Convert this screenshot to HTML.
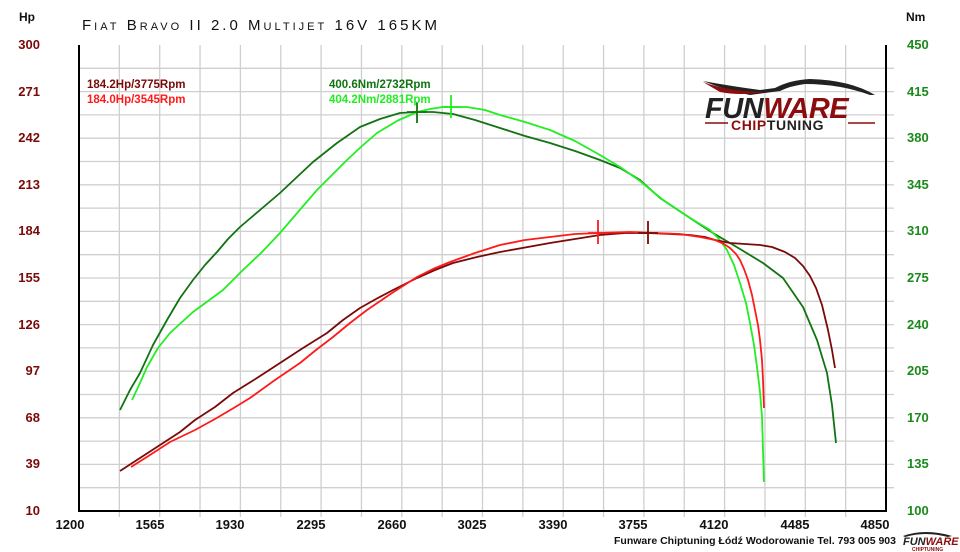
<!DOCTYPE html>
<html><head><meta charset="utf-8"><style>
html,body{margin:0;padding:0;background:#fff;}
svg{display:block;font-family:"Liberation Sans",sans-serif;}
</style></head><body>
<svg width="960" height="552" viewBox="0 0 960 552">
<rect width="960" height="552" fill="#fff"/>
<g stroke="#cfcfcf" stroke-width="1.3">
<line x1="119.35" y1="45" x2="119.35" y2="517"/><line x1="159.7" y1="45" x2="159.7" y2="517"/><line x1="200.05" y1="45" x2="200.05" y2="517"/><line x1="240.4" y1="45" x2="240.4" y2="517"/><line x1="280.75" y1="45" x2="280.75" y2="517"/><line x1="321.1" y1="45" x2="321.1" y2="517"/><line x1="361.45" y1="45" x2="361.45" y2="517"/><line x1="401.8" y1="45" x2="401.8" y2="517"/><line x1="442.15" y1="45" x2="442.15" y2="517"/><line x1="482.5" y1="45" x2="482.5" y2="517"/><line x1="522.85" y1="45" x2="522.85" y2="517"/><line x1="563.2" y1="45" x2="563.2" y2="517"/><line x1="603.55" y1="45" x2="603.55" y2="517"/><line x1="643.9" y1="45" x2="643.9" y2="517"/><line x1="684.25" y1="45" x2="684.25" y2="517"/><line x1="724.6" y1="45" x2="724.6" y2="517"/><line x1="764.95" y1="45" x2="764.95" y2="517"/><line x1="805.3" y1="45" x2="805.3" y2="517"/><line x1="845.65" y1="45" x2="845.65" y2="517"/>
<line x1="79" y1="68.3" x2="894" y2="68.3"/><line x1="79" y1="91.6" x2="894" y2="91.6"/><line x1="79" y1="114.9" x2="894" y2="114.9"/><line x1="79" y1="138.2" x2="894" y2="138.2"/><line x1="79" y1="161.5" x2="894" y2="161.5"/><line x1="79" y1="184.8" x2="894" y2="184.8"/><line x1="79" y1="208.1" x2="894" y2="208.1"/><line x1="79" y1="231.4" x2="894" y2="231.4"/><line x1="79" y1="254.7" x2="894" y2="254.7"/><line x1="79" y1="278" x2="894" y2="278"/><line x1="79" y1="301.3" x2="894" y2="301.3"/><line x1="79" y1="324.6" x2="894" y2="324.6"/><line x1="79" y1="347.9" x2="894" y2="347.9"/><line x1="79" y1="371.2" x2="894" y2="371.2"/><line x1="79" y1="394.5" x2="894" y2="394.5"/><line x1="79" y1="417.8" x2="894" y2="417.8"/><line x1="79" y1="441.1" x2="894" y2="441.1"/><line x1="79" y1="464.4" x2="894" y2="464.4"/><line x1="79" y1="487.7" x2="894" y2="487.7"/>
</g>
<g stroke="#000" stroke-width="2" fill="none">
<line x1="79" y1="45" x2="79" y2="512"/>
<line x1="886" y1="45" x2="886" y2="512"/>
<line x1="78" y1="511" x2="887" y2="511"/>
</g>
<g fill="none" stroke-width="1.8" stroke-linejoin="round">
<polyline stroke="#127312" points="120,410 130,390 140,373 153,345 167,320 180,298 193,280 205,265 217,252 228,239 240,227 260,210 280,193 297,177 313,162 337,143 360,127 380,119 400,113 417,112 433,112 453,114 475,120 500,128 525,136 550,143 575,151 600,160 620,168 640,180 660,198 690,218 713,233 740,249 763,263 783,278 803,307 817,340 827,373 832,405 836,443"/>
<polyline stroke="#22ee22" points="132,400 140,383 147,367 158,348 170,333 182,322 193,312 208,301 223,290 233,280 243,270 262,252 280,233 298,212 317,190 332,175 347,160 362,146 377,133 397,121 417,112 430,109 443,107 455,107 467,107 485,110 500,115 525,122 550,130 575,141 600,155 620,167 640,181 663,200 690,218 710,230 719,239 727,250 734,265 740,283 746,303 750,323 754,345 757,367 760,392 762,417 763,450 764,482"/>
<polyline stroke="#7a0a0a" points="120,471 140,458 160,445 180,432 195,420 215,407 233,393 257,378 280,363 303,348 327,333 343,320 360,308 376,299 393,290 405,284 417,278 435,270 453,263 477,257 500,252 550,243 600,235 625,233 648,233 670,234 690,235 705,237 715,240 730,243 745,244 760,245 772,247 785,252 795,258 803,266 810,276 816,288 822,305 828,330 832,350 835,368"/>
<polyline stroke="#ff1a1a" points="131,467 150,455 170,442 195,430 215,419 232,409 250,398 275,380 300,363 316,350 333,337 350,323 367,310 392,293 417,277 433,269 450,262 475,253 500,245 525,240 550,237 575,234 600,233 630,232 655,233 680,234 700,237 715,240 724,244 730,248 736,254 740,260 744,269 748,280 752,295 755,310 758,325 760,340 762,360 763,380 764,408"/>
</g>
<g stroke-width="1.8">
<line x1="417" y1="102" x2="417" y2="123" stroke="#127312"/><line x1="407" y1="112" x2="427" y2="112" stroke="#127312"/>
<line x1="451" y1="95" x2="451" y2="118" stroke="#22ee22"/><line x1="441" y1="107" x2="461" y2="107" stroke="#22ee22"/>
<line x1="648" y1="221" x2="648" y2="244" stroke="#7a0a0a"/><line x1="638" y1="233" x2="658" y2="233" stroke="#7a0a0a"/>
<line x1="598" y1="220" x2="598" y2="244" stroke="#ff1a1a"/><line x1="588" y1="233" x2="608" y2="233" stroke="#ff1a1a"/>
</g>
<text x="82" y="30" font-size="15" font-variant="small-caps" textLength="355" lengthAdjust="spacing" fill="#111">Fiat Bravo II 2.0 Multijet 16V 165KM</text>
<text x="19" y="21" font-size="12" font-weight="bold" fill="#111">Hp</text>
<text x="906" y="21" font-size="12" font-weight="bold" fill="#111">Nm</text>
<g font-size="13" font-weight="bold" fill="#7a0a0a" text-anchor="end">
<text x="40" y="49">300</text><text x="40" y="96">271</text><text x="40" y="142">242</text><text x="40" y="189">213</text><text x="40" y="235">184</text><text x="40" y="282">155</text><text x="40" y="329">126</text><text x="40" y="375">97</text><text x="40" y="422">68</text><text x="40" y="468">39</text><text x="40" y="515">10</text>
</g>
<g font-size="13" font-weight="bold" fill="#1a8a1a">
<text x="907" y="49">450</text><text x="907" y="96">415</text><text x="907" y="142">380</text><text x="907" y="189">345</text><text x="907" y="235">310</text><text x="907" y="282">275</text><text x="907" y="329">240</text><text x="907" y="375">205</text><text x="907" y="422">170</text><text x="907" y="468">135</text><text x="907" y="515">100</text>
</g>
<g font-size="13" font-weight="bold" fill="#111" text-anchor="middle">
<text x="70" y="529">1200</text><text x="150" y="529">1565</text><text x="230" y="529">1930</text><text x="311" y="529">2295</text><text x="392" y="529">2660</text><text x="472" y="529">3025</text><text x="553" y="529">3390</text><text x="633" y="529">3755</text><text x="714" y="529">4120</text><text x="795" y="529">4485</text><text x="875" y="529">4850</text>
</g>
<text x="614" y="544" font-size="10.5" font-weight="bold" fill="#111">Funware Chiptuning Łódź Wodorowanie Tel. 793 005 903</text>
<g font-size="11.5" font-weight="bold">
<text x="87" y="88" fill="#7a0a0a">184.2Hp/3775Rpm</text>
<text x="87" y="103" fill="#ff1a1a">184.0Hp/3545Rpm</text>
<text x="329" y="88" fill="#127312">400.6Nm/2732Rpm</text>
<text x="329" y="103" fill="#22ee22">404.2Nm/2881Rpm</text>
</g>
<path d="M703 81 Q730 86 760 90 L775 88 Q790 80 810 79 Q850 80 875 95 L870 95 Q840 84 805 84 Q790 86 780 91 L750 95 Q725 90 703 81Z" fill="#222"/>
<path d="M703 82 Q730 92 765 92 Q740 96 720 92 Z" fill="#8b0d0d"/>
<text x="705" y="118" font-size="29" font-weight="bold" font-style="italic" fill="#222" letter-spacing="-0.5">FUN<tspan fill="#8b0d0d">WARE</tspan></text>
<line x1="705" y1="123" x2="728" y2="123" stroke="#8b0d0d" stroke-width="1.5"/>
<line x1="848" y1="123" x2="875" y2="123" stroke="#8b0d0d" stroke-width="1.5"/>
<text x="731" y="130" font-size="14" font-weight="bold" fill="#8b0d0d" letter-spacing="0.6">CHIP<tspan fill="#222">TUNING</tspan></text>
<text x="903" y="545" font-size="11" font-weight="bold" font-style="italic" fill="#222">FUN<tspan fill="#8b0d0d">WARE</tspan></text>
<path d="M903 536 Q925 528 952 536 L948 537 Q925 531 905 537Z" fill="#222"/>
<text x="912" y="551" font-size="5" font-weight="bold" fill="#8b0d0d">CHIPTUNING</text>
</svg>
</body></html>
